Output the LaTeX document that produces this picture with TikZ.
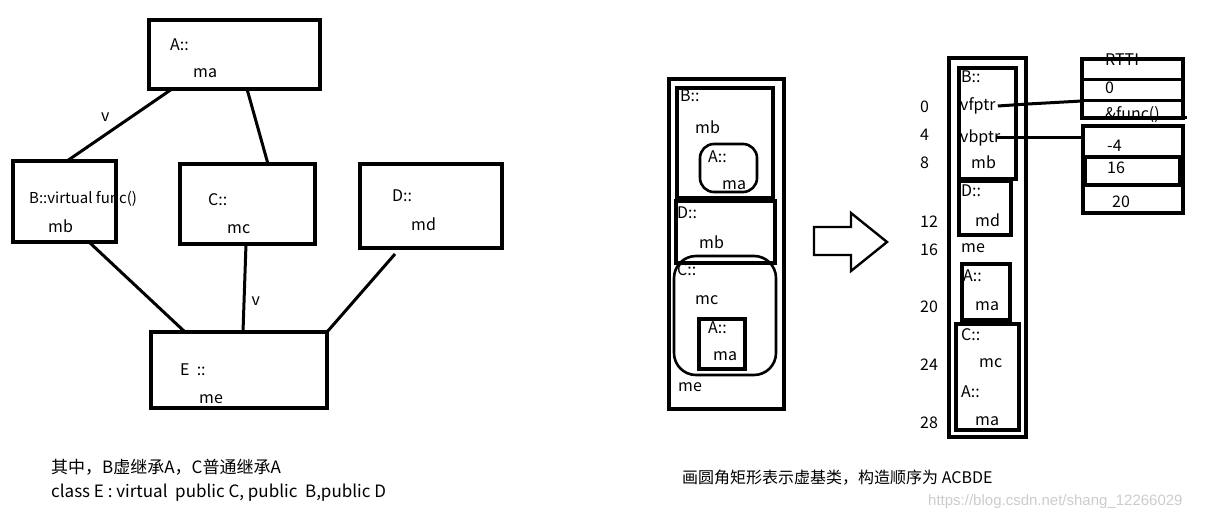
\documentclass[tikz,border=0pt]{standalone}
\usepackage{fontspec}
\setmainfont{Noto Sans CJK SC}
\newfontfamily\markfont{Liberation Sans}
\usetikzlibrary{fit}

\tikzset{
  box/.style={draw, line width=3.2pt, inner sep=0pt, outer sep=0pt},
  rbox/.style={box, line width=2.6pt, rounded corners=14pt},
  txt/.style={anchor=west, inner sep=0pt, font=\fontsize{16}{18}\selectfont},
  note/.style={txt, font=\fontsize{17}{19}\selectfont},
  link/.style={line width=3pt},
}

\begin{document}
\begin{tikzpicture}[x=1pt, y=-1pt]
  \useasboundingbox (0,0) rectangle (1221,521);

  % inheritance
  \node[box, fit={(149,20) (320,89)}] (A) {};
  \node[box, fit={(13,161) (116,242)}] (B) {};
  \node[box, fit={(180,164) (315,244)}] (C) {};
  \node[box, fit={(360,164) (502,248)}] (D) {};
  \node[box, fit={(151,332) (327,408)}] (E) {};
  \node[txt] at (170,45) {A::};
  \node[txt] at (193,73) {ma};
  \node[txt, font=\fontsize{15}{17}\selectfont] at (29,199) {B::virtual func()};
  \node[txt] at (48,226) {mb};
  \node[txt] at (208,200) {C::};
  \node[txt] at (227,229) {mc};
  \node[txt] at (392,196) {D::};
  \node[txt] at (411,224) {md};
  \node[txt] at (180,370) {E~~::};
  \node[txt] at (199,399) {me};
  \draw[link] ([xshift=23pt]A.south west) -- ([xshift=54pt]B.north west)
    node[midway, txt, xshift=-20pt, yshift=8pt]{v};
  \draw[link] ([xshift=98pt]A.south west) -- ([xshift=88pt]C.north west);
  \draw[link] ([xshift=76pt]B.south west) -- ([xshift=34pt]E.north west);
  \draw[link] ([xshift=66pt]C.south west) -- ([xshift=92pt]E.north west)
    node[pos=0.65, txt, xshift=6pt]{v};
  \draw[link] ([xshift=35pt, yshift=-6pt]D.south west) -- (E.north east);
  \node[note] at (51,467) {其中，B虚继承A，C普通继承A};
  \node[note] at (51,493) {class E : virtual~~public C, public~~B,public D};

  % layout with virtual base
  \node[box, fit={(669,79) (784,409)}] (E1) {};
  \node[box, fit={(677,88) (773,198)}] (B1) {};
  \node[rbox, fit={(700,144) (757,192)}] (A1) {};
  \node[box, fit={(676,201) (775,263)}] (D1) {};
  \node[rbox, rounded corners=22pt, fit={(674,256) (776,375)}] (C1) {};
  \node[box, fit={(699,319) (745,369)}] (A2) {};
  \node[txt] at (680,96) {B::};
  \node[txt] at (695,127) {mb};
  \node[txt] at (708,157) {A::};
  \node[txt] at (722,185) {ma};
  \node[txt] at (677,213) {D::};
  \node[txt] at (699,242) {mb};
  \node[txt] at (677,270) {C::};
  \node[txt] at (695,300) {mc};
  \node[txt] at (708,328) {A::};
  \node[txt] at (713,356) {ma};
  \node[txt] at (678,387) {me};
  \draw[line width=2.4pt] (814,227) -- (851,227) -- (851,213) -- (887,242)
    -- (851,271) -- (851,255) -- (814,255) -- cycle;
  \node[txt] at (682,478) {画圆角矩形表示虚基类，构造顺序为 ACBDE};

  % memory of E
  \node[box, fit={(949,58) (1026,437)}] (E2) {};
  \node[box, fit={(959,68) (1016,179)}] (B2) {};
  \node[box, fit={(959,181) (1011,235)}] (D2) {};
  \node[box, fit={(962,264) (1010,320)}] (A3) {};
  \node[box, fit={(956,324) (1019,430)}] (C2) {};
  \node[txt] at (961,77) {B::};
  \node[txt] (vf) at (960,106) {vfptr};
  \node[txt] (vb) at (960,138) {vbptr};
  \node[txt] at (971,162) {mb};
  \node[txt] at (961,191) {D::};
  \node[txt] at (975,220) {md};
  \node[txt] at (961,248) {me};
  \node[txt] at (963,276) {A::};
  \node[txt] at (975,306) {ma};
  \node[txt] at (961,335) {C::};
  \node[txt] at (979,363) {mc};
  \node[txt] at (961,392) {A::};
  \node[txt] at (975,421) {ma};
  \foreach \off/\y in {0/107, 4/135, 8/163, 12/222, 16/250, 20/307, 24/365, 28/423}
    \node[txt] at (920,\y) {\off};

  % tables
  \node[txt] at (1105,60) {RTTI};
  \node[txt] at (1105,88) {0};
  \node[txt] at (1105,115) {\&func()};
  \node[box, fit={(1082,59) (1183,118)}] (vft) {};
  \draw[link] ([yshift=-21pt]vft.north west) -- ([yshift=-21pt]vft.north east);
  \draw[link] ([yshift=-42pt]vft.north west) -- ([yshift=-42pt]vft.north east);
  \draw[link] ([xshift=-2pt]vft.south west) -- ([xshift=4pt]vft.south east);
  \node[box, fit={(1083,126) (1183,213)}] (vbt) {};
  \node[box, fit={(1085,157) (1180,185)}] (v16) {};
  \node[txt] at (1107,146) {-4};
  \node[txt] at (1107,168) {16};
  \node[txt] at (1112,202) {20};
  \draw[link] ([xshift=2pt]vf.east) -- ++(30pt,2pt) -- ([yshift=-42pt]vft.north west);
  \draw[link] ([xshift=-4pt]vb.east) -- ([yshift=-12pt]vbt.north west);

  \node[txt, font=\markfont\fontsize{15}{17}\selectfont, text=gray!40] at (928,502)
    {https://blog.csdn.net/shang\_12266029};
\end{tikzpicture}
\end{document}
